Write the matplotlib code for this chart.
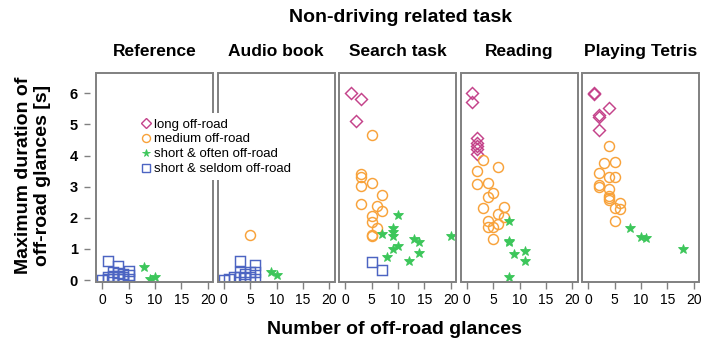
import numpy as np
import matplotlib.pyplot as plt
from matplotlib.patches import Rectangle
from matplotlib.lines import Line2D

plt.rcParams['font.family'] = ['Liberation Sans', 'DejaVu Sans']

tasks = ['Reference', 'Audio book', 'Search task', 'Reading', 'Playing Tetris']
categories = ['long off-road', 'medium off-road', 'short & often off-road', 'short & seldom off-road']

# Reference
ref_seldom_x = [0, 1, 1, 1, 2, 2, 2, 3, 3, 3, 3, 4, 4, 4, 5, 5, 5]
ref_seldom_y = [0.0, 0.6, 0.1, 0.05, 0.25, 0.12, 0.05, 0.45, 0.22, 0.1, 0.03, 0.2, 0.1, 0.03, 0.3, 0.15, 0.05]
ref_often_x = [8, 9, 10]
ref_often_y = [0.41, 0.05, 0.09]

# Audio book
audio_medium_x = [5]
audio_medium_y = [1.44]
audio_seldom_x = [0, 1, 2, 3, 3, 3, 4, 4, 5, 5, 6, 6, 6]
audio_seldom_y = [0.0, 0.05, 0.1, 0.63, 0.25, 0.1, 0.2, 0.08, 0.25, 0.1, 0.5, 0.27, 0.05]
audio_often_x = [9, 10]
audio_often_y = [0.27, 0.16]

# Search task
search_long_x = [1, 3, 2]
search_long_y = [6.0, 5.8, 5.1]
search_medium_x = [5, 3, 3, 3, 5, 7, 3, 6, 7, 5, 5, 6, 5, 5]
search_medium_y = [4.65, 3.4, 3.3, 3.02, 3.13, 2.74, 2.45, 2.38, 2.23, 2.06, 1.88, 1.66, 1.45, 1.42]
search_often_x = [10, 7, 9, 9, 9, 13, 14, 20, 10, 9, 14, 8, 12]
search_often_y = [2.08, 1.47, 1.68, 1.55, 1.42, 1.32, 1.23, 1.42, 1.10, 1.0, 0.88, 0.73, 0.63]
search_seldom_x = [5, 7]
search_seldom_y = [0.57, 0.32]

# Reading
reading_long_x = [1, 1, 2, 2, 2, 2, 2]
reading_long_y = [6.0, 5.71, 4.55, 4.4, 4.3, 4.2, 4.05]
reading_medium_x = [3, 6, 2, 4, 2, 5, 4, 7, 3, 6, 7, 4, 6, 4, 5, 5]
reading_medium_y = [3.85, 3.64, 3.5, 3.13, 3.09, 2.79, 2.68, 2.34, 2.33, 2.12, 2.04, 1.9, 1.8, 1.71, 1.71, 1.32]
reading_often_x = [8, 8, 8, 11, 9, 11, 8]
reading_often_y = [1.9, 1.26, 1.22, 0.93, 0.85, 0.63, 0.09]

# Playing Tetris
tetris_long_x = [1, 1, 4, 2, 2, 2]
tetris_long_y = [6.0, 5.98, 5.52, 5.29, 5.25, 4.81]
tetris_medium_x = [4, 3, 5, 2, 4, 5, 2, 2, 4, 4, 4, 4, 6, 5, 6, 5]
tetris_medium_y = [4.31, 3.77, 3.78, 3.43, 3.32, 3.31, 3.05, 2.99, 2.94, 2.7, 2.65, 2.57, 2.48, 2.33, 2.27, 1.91]
tetris_often_x = [8, 10, 11, 18]
tetris_often_y = [1.66, 1.39, 1.36, 1.01]

panel_data = [
    [([], []), ([], []), (ref_often_x, ref_often_y), (ref_seldom_x, ref_seldom_y)],
    [([], []), (audio_medium_x, audio_medium_y), (audio_often_x, audio_often_y), (audio_seldom_x, audio_seldom_y)],
    [(search_long_x, search_long_y), (search_medium_x, search_medium_y),
     (search_often_x, search_often_y), (search_seldom_x, search_seldom_y)],
    [(reading_long_x, reading_long_y), (reading_medium_x, reading_medium_y),
     (reading_often_x, reading_often_y), ([], [])],
    [(tetris_long_x, tetris_long_y), (tetris_medium_x, tetris_medium_y),
     (tetris_often_x, tetris_often_y), ([], [])],
]

colors = ['#C4428A', '#F8A23A', '#3CC65A', '#4C64C2']
markers = ['D', 'o', '*', 's']
sizes = [6.2, 7.2, 7, 7.5]
filled = [False, False, True, False]

frame_col = '#808080'
W, H = 701, 347
fig = plt.figure(figsize=(W / 100, H / 100), dpi=100)

lefts = [96, 217.5, 339, 460.5, 582]
pw = 117
top, bottom = 72.7, 281.7

axes = []
for i, left in enumerate(lefts):
    ax = fig.add_axes([left / W, 1 - bottom / H, pw / W, (bottom - top) / H])
    axes.append(ax)
    for j in range(4):
        xs, ys = panel_data[i][j]
        if not xs:
            continue
        ax.plot(xs, ys, linestyle='none', marker=markers[j], ms=sizes[j],
                mec=colors[j], mfc=colors[j] if filled[j] else 'none',
                mew=0.6 if filled[j] else 1.05)
    ax.set_xlim(-1.2, 21)
    ax.set_ylim(-0.05, 6.66)
    ax.set_xticks([0, 5, 10, 15, 20])
    for s in ax.spines.values():
        s.set_visible(False)
    ax.add_patch(Rectangle((0, 0), 1, 1, transform=ax.transAxes, fill=False,
                           ec=frame_col, lw=1.4, clip_on=False, zorder=3))
    ax.tick_params(axis='x', direction='out', length=5, width=1, color=frame_col,
                   labelsize=10, pad=3)
    ax.set_title(tasks[i], fontsize=12.5, fontweight='bold', pad=12)
    if i == 0:
        ax.spines['left'].set_position(('outward', 4))
        ax.set_yticks(range(7))
        ax.tick_params(axis='y', direction='out', length=4, width=1, color=frame_col,
                       labelsize=10.5, pad=5)
        for lab in ax.get_yticklabels():
            lab.set_fontweight('bold')
    else:
        ax.set_yticks([])

handles = [Line2D([], [], linestyle='none', marker=markers[j], ms=sizes[j] * 0.8,
                  mec=colors[j], mfc=colors[j] if filled[j] else 'none',
                  mew=0.6 if filled[j] else 1.0) for j in range(4)]
leg = fig.legend(handles, categories, loc='upper left', bbox_to_anchor=(135 / W, 1 - 113 / H),
                 fontsize=9.5, frameon=True, handlelength=0.8, handletextpad=0.25,
                 labelspacing=0.2, borderpad=0.4, borderaxespad=0)
leg.get_frame().set_facecolor('white')
leg.get_frame().set_edgecolor('none')
leg.get_frame().set_alpha(1)

fig.text(401 / W, 1 - 18 / H, 'Non-driving related task', fontsize=14, fontweight='bold',
         ha='center', va='center')
fig.text(394 / W, 1 - 329 / H, 'Number of off-road glances', fontsize=14, fontweight='bold',
         ha='center', va='center')
fig.text(33 / W, 1 - 175 / H, 'Maximum duration of\noff-road glances [s]', fontsize=14,
         fontweight='bold', ha='center', va='center', rotation=90, multialignment='center',
         linespacing=1.15)

fig.savefig('out.png', dpi=100)
